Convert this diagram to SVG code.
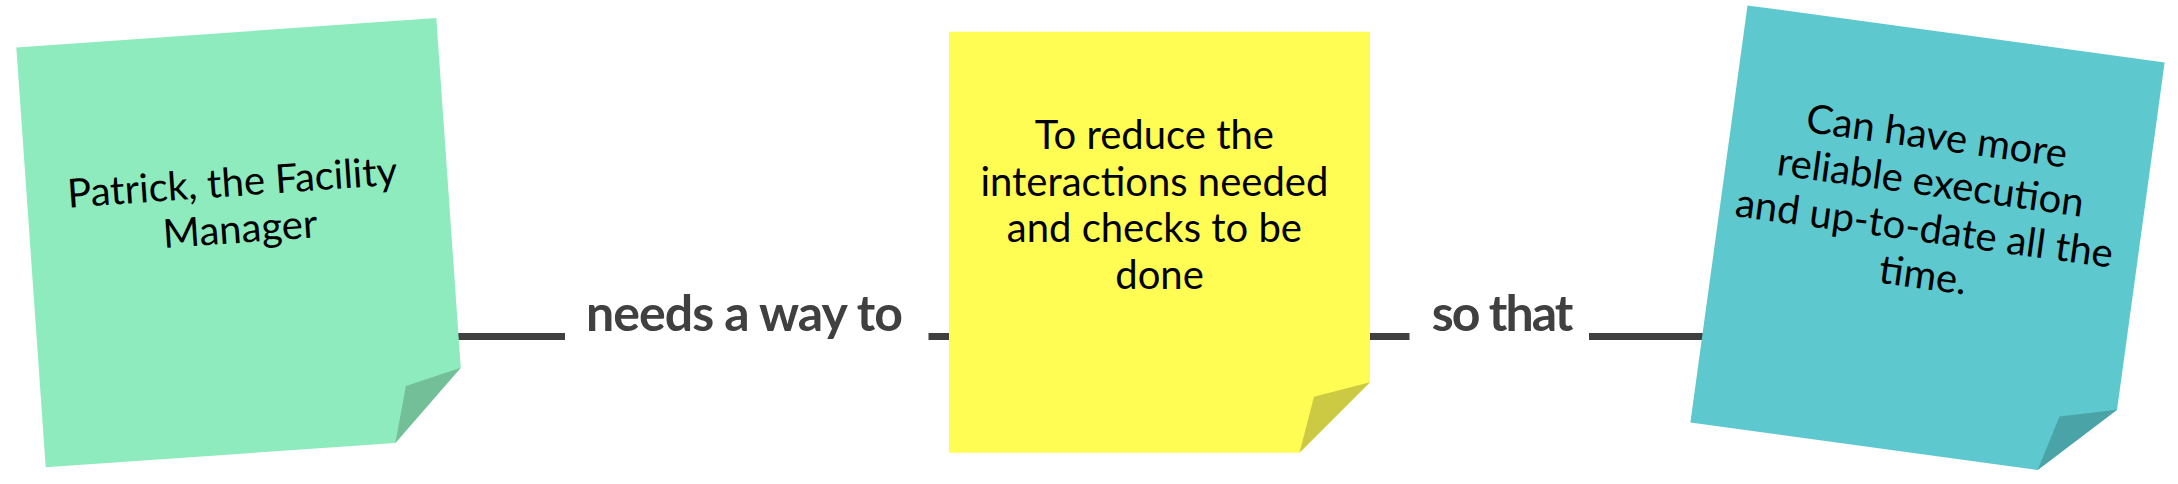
<svg xmlns="http://www.w3.org/2000/svg" width="2178" height="484" viewBox="0 0 2178 484">
  <style>
    .note-text { font-family: Lato, "Open Sans", "Liberation Sans", sans-serif; font-size: 40px; fill: #000; text-anchor: middle; }
    .label { font-family: Lato, "Liberation Sans", sans-serif; font-weight: bold; font-size: 50px; fill: #404040; text-anchor: middle; }
    .conn { stroke: #404040; stroke-width: 7; fill: none; }
  </style>
  <defs>
    <path id="sheet" d="M-210.5,-210.5 H210.5 V140 L140,210.5 H-210.5 Z"/>
    <path id="fold" d="M210.5,140 L154.5,154.5 L140,210.5 Z"/>
  </defs>
  <rect width="2178" height="484" fill="#fff"/>

  <g id="connectors">
    <line class="conn" x1="440" y1="336.5" x2="565" y2="336.5"/>
    <line class="conn" x1="928.5" y1="336.5" x2="970" y2="336.5"/>
    <line class="conn" x1="1350" y1="336.5" x2="1409.5" y2="336.5"/>
    <line class="conn" x1="1589" y1="336.5" x2="1730" y2="336.5"/>
    <text class="label" x="744.5" y="330.7" textLength="317" lengthAdjust="spacing">needs a way to</text>
    <text class="label" x="1502.5" y="330.7" textLength="141.7" lengthAdjust="spacing">so that</text>
  </g>

  <g id="note-patrick" transform="translate(241,242.7) rotate(-4)">
    <use href="#sheet" fill="#8EEBBE"/>
    <use href="#fold" fill="#72BF98"/>
    <text class="note-text">
      <tspan x="0" y="-47">Patrick, the Facility</tspan>
      <tspan x="0" y="0">Manager</tspan>
    </text>
  </g>

  <g id="note-reduce" transform="translate(1159.5,242.3)">
    <use href="#sheet" fill="#FFFC54"/>
    <use href="#fold" fill="#CCCA43"/>
    <text class="note-text">
      <tspan x="0" y="-93">To reduce the</tspan>
      <tspan x="0" y="-46.5">interactions needed</tspan>
      <tspan x="0" y="0">and checks to be</tspan>
      <tspan x="0" y="46.5">done</tspan>
    </text>
  </g>

  <g id="note-reliable" transform="translate(1927.5,242.5) rotate(7.8)">
    <use href="#sheet" fill="#5DC8CD"/>
    <use href="#fold" fill="#4AA3A6"/>
    <text class="note-text">
      <tspan x="0" y="-93">Can have more</tspan>
      <tspan x="0" y="-46.5">reliable execution</tspan>
      <tspan x="0" y="0">and up-to-date all the</tspan>
      <tspan x="0" y="46.5">time.</tspan>
    </text>
  </g>
</svg>
